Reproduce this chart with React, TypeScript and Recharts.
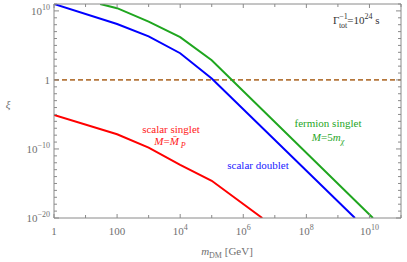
import React from "react";
import { LineChart, Line, XAxis, YAxis, ReferenceLine } from "recharts";

// Tick positions
const massTicks = [1, 1e1, 1e2, 1e3, 1e4, 1e5, 1e6, 1e7, 1e8, 1e9, 1e10, 1e11];
const xiTicks = [
  1e-20, 1e-19, 1e-18, 1e-17, 1e-16, 1e-15, 1e-14, 1e-13, 1e-12, 1e-11, 1e-10,
  1e-9, 1e-8, 1e-7, 1e-6, 1e-5, 1e-4, 1e-3, 1e-2, 1e-1, 1, 1e1, 1e2, 1e3, 1e4,
  1e5, 1e6, 1e7, 1e8, 1e9, 1e10, 1e11,
];
const massLabelExps = [0, 2, 4, 6, 8, 10];
const xiLabelExps = [-20, -10, 0, 10];

// Series: scalar doublet (blue)
const doubletMass = [1, 100, 1e3, 1e4, 1e5, 3.47e9];
const doubletXi = [1e11, 1.26e8, 2e6, 7.4e3, 1.6, 1e-20];
// Series: fermion singlet M = 5 m_chi (green)
const fermionMass = [29, 100, 1e3, 1e4, 1e5, 1.29e10];
const fermionXi = [1e11, 2.5e10, 2.8e8, 1.55e6, 7e2, 1e-20];
// Series: scalar singlet M = M_P (red)
const singletMass = [1, 100, 1e3, 1e4, 1e5, 4e6];
const singletXi = [8.5e-6, 1.35e-8, 1.55e-10, 5e-13, 2.5e-15, 1e-20];

const zip = (ms: number[], xs: number[]) => ms.map((m, i) => ({ m, xi: xs[i] }));
const doubletData = zip(doubletMass, doubletXi);
const fermionData = zip(fermionMass, fermionXi);
const singletData = zip(singletMass, singletXi);

const FONT = "'Liberation Serif', 'DejaVu Serif', serif";
const GRAY = "#8a8a8a";
const LABEL = "#707070";

const expOf = (v: number) => Math.round(Math.log10(v));

const PowLabel = ({ e, x, y, anchor }: { e: number; x: number; y: number; anchor: string }) => {
  const common = { x, y, textAnchor: anchor, fontFamily: FONT, fontSize: 11, fill: LABEL } as any;
  if (e === 0) return <text {...common}>1</text>;
  if (e === 2) return <text {...common}>100</text>;
  return (
    <text {...common}>
      <tspan>10</tspan>
      <tspan dy={-5} fontSize={8}>
        {e < 0 ? "\u2212" + Math.abs(e) : String(e)}
      </tspan>
    </text>
  );
};

const BottomTick = (props: any) => {
  const { x, payload } = props;
  const y = props.y;
  const e = expOf(payload.value);
  const major = massLabelExps.includes(e);
  return (
    <g>
      <line x1={x} y1={y} x2={x} y2={y - (major ? 4 : 3)} stroke={GRAY} strokeWidth={1} />
      {major && <PowLabel e={e} x={x} y={y + 17} anchor="middle" />}
    </g>
  );
};

const TopTick = (props: any) => {
  const { x, y, payload } = props;
  const e = expOf(payload.value);
  const major = massLabelExps.includes(e);
  return <line x1={x} y1={y} x2={x} y2={y + (major ? 4 : 3)} stroke={GRAY} strokeWidth={1} />;
};

const LeftTick = (props: any) => {
  const { x, y, payload } = props;
  const e = expOf(payload.value);
  const major = xiLabelExps.includes(e);
  return (
    <g>
      <line x1={x} y1={y} x2={x + (major ? 5 : 3)} y2={y} stroke={GRAY} strokeWidth={1} />
      {major && <PowLabel e={e} x={x - 4} y={y + 4} anchor="end" />}
    </g>
  );
};

const RightTick = (props: any) => {
  const { x, y, payload } = props;
  const e = expOf(payload.value);
  const major = xiLabelExps.includes(e);
  return <line x1={x} y1={y} x2={x - (major ? 5 : 3)} y2={y} stroke={GRAY} strokeWidth={1} />;
};

export default function App() {
  return (
    <div style={{ position: "absolute", left: 0, top: 0 }}>
      <LineChart
        width={407}
        height={262}
        margin={{ top: 3, right: 5, bottom: 43, left: 0 }}
      >
        <XAxis
          xAxisId="b"
          dataKey="m"
          type="number"
          scale="log"
          domain={[1, 1e11]}
          allowDataOverflow
          ticks={massTicks}
          interval={0}
          height={1}
          tickSize={0}
          tickMargin={0}
          tickLine={false}
          axisLine={{ stroke: GRAY, strokeWidth: 1 }}
          tick={<BottomTick />}
        />
        <XAxis
          xAxisId="t"
          orientation="top"
          dataKey="m"
          type="number"
          scale="log"
          domain={[1, 1e11]}
          allowDataOverflow
          ticks={massTicks}
          interval={0}
          height={1}
          tickSize={0}
          tickMargin={0}
          tickLine={false}
          axisLine={{ stroke: GRAY, strokeWidth: 1 }}
          tick={<TopTick />}
        />
        <YAxis
          yAxisId="l"
          type="number"
          scale="log"
          domain={[1e-20, 1e11]}
          allowDataOverflow
          ticks={xiTicks}
          interval={0}
          width={54}
          tickSize={0}
          tickMargin={0}
          tickLine={false}
          axisLine={{ stroke: GRAY, strokeWidth: 1 }}
          tick={<LeftTick />}
        />
        <YAxis
          yAxisId="r"
          orientation="right"
          type="number"
          scale="log"
          domain={[1e-20, 1e11]}
          allowDataOverflow
          ticks={xiTicks}
          interval={0}
          width={1}
          tickSize={0}
          tickMargin={0}
          tickLine={false}
          axisLine={{ stroke: GRAY, strokeWidth: 1 }}
          tick={<RightTick />}
        />
        <ReferenceLine
          xAxisId="b"
          yAxisId="l"
          y={1}
          stroke="#b5773c"
          strokeWidth={1.8}
          strokeDasharray="5 3"
        />
        <Line
          xAxisId="b"
          yAxisId="l"
          data={singletData}
          dataKey="xi"
          stroke="#ff0000"
          strokeWidth={2}
          dot={false}
          isAnimationActive={false}
        />
        <Line
          xAxisId="b"
          yAxisId="l"
          data={doubletData}
          dataKey="xi"
          stroke="#0000ff"
          strokeWidth={2}
          dot={false}
          isAnimationActive={false}
        />
        <Line
          xAxisId="b"
          yAxisId="l"
          data={fermionData}
          dataKey="xi"
          stroke="#1fa61f"
          strokeWidth={2}
          dot={false}
          isAnimationActive={false}
        />
        {/* annotations */}
        <text x={171} y={133} textAnchor="middle" fontFamily={FONT} fontSize={11} fill="#ff2020">
          scalar singlet
        </text>
        <text x={170} y={145} textAnchor="middle" fontFamily={FONT} fontSize={11} fill="#ff2020">
          <tspan fontStyle="italic">M</tspan>
          <tspan>=</tspan>
          <tspan fontStyle="italic">{"M\u0304"}</tspan>
          <tspan dy={3} fontSize={8} fontStyle="italic"> P</tspan>
        </text>
        <text x={258} y={169} textAnchor="middle" fontFamily={FONT} fontSize={11} fill="#2020ff">
          scalar doublet
        </text>
        <text x={328} y={127} textAnchor="middle" fontFamily={FONT} fontSize={11} fill="#1fa61f">
          fermion singlet
        </text>
        <text x={328} y={141} textAnchor="middle" fontFamily={FONT} fontSize={11} fill="#1fa61f">
          <tspan fontStyle="italic">M</tspan>
          <tspan>=5</tspan>
          <tspan fontStyle="italic">m</tspan>
          <tspan dy={3} fontSize={8} fontStyle="italic">χ</tspan>
        </text>
        <text x={333} y={24} fontFamily={FONT} fontSize={11} fill="#333">
          <tspan>Γ</tspan>
          <tspan dy={-5} fontSize={8}>−1</tspan>
          <tspan dx={-9} dy={9} fontSize={8}>tot</tspan>
          <tspan dy={-4}>=10</tspan>
          <tspan dy={-5} fontSize={8}>24</tspan>
          <tspan dy={5}> s</tspan>
        </text>
        <text x={8} y={108} textAnchor="middle" fontFamily={FONT} fontSize={11} fontStyle="italic" fill={LABEL}>
          ξ
        </text>
        <text x={227} y={255} textAnchor="middle" fontFamily={FONT} fontSize={11} fill={LABEL}>
          <tspan fontStyle="italic">m</tspan>
          <tspan dy={3} fontSize={8}>DM</tspan>
          <tspan dy={-3}>  [GeV]</tspan>
        </text>
      </LineChart>
    </div>
  );
}
